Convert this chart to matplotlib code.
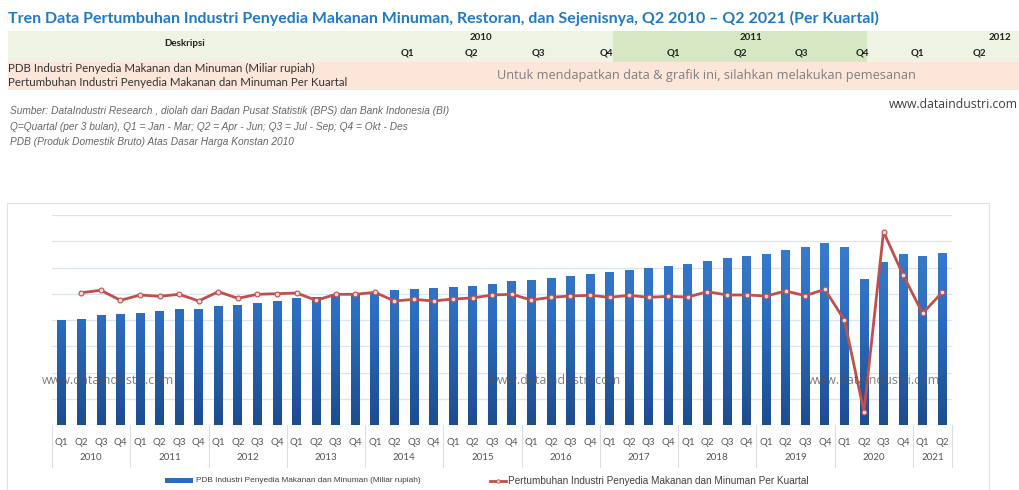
import matplotlib
matplotlib.use("Agg")
import matplotlib.pyplot as plt
from matplotlib import font_manager
from matplotlib.patches import Rectangle
from matplotlib.lines import Line2D
from matplotlib.colors import LinearSegmentedColormap
import matplotlib.transforms as mtransforms
import numpy as np

# Data (PDB in miliar rupiah, growth in % per quarter)
years = ["2010", "2011", "2012", "2013", "2014", "2015", "2016", "2017",
         "2018", "2019", "2020", "2021"]
quarters = ["Q1", "Q2", "Q3", "Q4"] * 11 + ["Q1", "Q2"]

pdb = [99800, 101400, 104600, 105500,
       107100, 108100, 110600, 110300,
       113100, 114100, 116600, 118200,
       120700, 121700, 123600, 125200,
       126700, 128300, 129300, 130200,
       131200, 132800, 134700, 136900,
       137800, 139700, 141600, 143800,
       145700, 147300, 149200, 151800,
       153300, 156200, 158700, 161300,
       162800, 166600, 169200, 173300,
       169200, 138800, 155200, 163200,
       160600, 164200]

growth = [None, 2.05, 2.45, 0.78,
          1.67, 1.45, 1.78, 0.67,
          2.22, 1.11, 1.78, 1.89,
          2.00, 0.78, 1.78, 1.78,
          2.11, 0.67, 0.94, 0.67,
          1.00, 1.17, 1.67, 1.78,
          0.83, 1.28, 1.50, 1.61,
          1.28, 1.61, 1.28, 1.44,
          1.33, 2.22, 1.67, 1.67,
          1.50, 2.33, 1.56, 2.61,
          -2.50, -17.8, 12.2, 5.00,
          -1.39, 2.11]

title = "Tren Data Pertumbuhan Industri Penyedia Makanan Minuman, Restoran, dan Sejenisnya, Q2 2010 \u2013 Q2 2021 (Per Kuartal)"
row_labels = ["PDB Industri Penyedia Makanan dan Minuman (Miliar rupiah)",
              "Pertumbuhan Industri Penyedia Makanan dan Minuman Per Kuartal"]
table_years = ["2010", "2011", "2012"]
table_quarters = ["Q1", "Q2", "Q3", "Q4", "Q1", "Q2", "Q3", "Q4", "Q1", "Q2"]
notes = ["Sumber: DataIndustri Research , diolah dari Badan Pusat Statistik (BPS) dan Bank Indonesia (BI)",
         "Q=Quartal (per 3 bulan), Q1 = Jan - Mar; Q2 = Apr - Jun; Q3 = Jul - Sep; Q4 = Okt - Des",
         "PDB (Produk Domestik Bruto) Atas Dasar Harga Konstan 2010"]
site = "www.dataindustri.com"

bar_color = "#2c6cbd"
line_color = "#c0504d"

W, H = 1020, 490
fig = plt.figure(figsize=(W / 100, H / 100), dpi=100)
fig.patch.set_facecolor("white")
renderer = fig.canvas.get_renderer()


def fx(x):
    return x / W


def fy(y):
    return 1 - y / H


def prect(x0, y0, x1, y1, **kw):
    fig.patches.append(Rectangle((fx(x0), fy(y1)), fx(x1 - x0), (y1 - y0) / H,
                                 transform=fig.transFigure, **kw))


def fit(t, width_px):
    # scale the font so the text spans the given pixel width
    bb = t.get_window_extent(renderer)
    t.set_fontsize(t.get_fontsize() * width_px / bb.width)


# header
fig.text(fx(8), fy(18), title, fontsize=11.5, fontweight="bold", color="#1f7bc4",
         family="Lato", va="center", ha="left")

prect(8, 31, 1020, 62, facecolor="#eef3e3", edgecolor="none")
prect(613, 31, 867, 62, facecolor="#d8e7c3", edgecolor="none")
prect(8, 62, 1020, 90, facecolor="#fce6da", edgecolor="none")

fig.text(fx(185), fy(44), "Deskripsi", fontsize=7, fontweight="bold",
         family="Lato", ha="center", va="center", color="#222222")
for lab, xp in zip(table_years, [481, 751, 1000]):
    fig.text(fx(xp), fy(38), lab, fontsize=7, fontweight="bold", family="Lato",
             ha="center", va="center", color="#222222")
for lab, xp in zip(table_quarters, [407, 471, 538, 606, 673, 740, 801, 862, 917, 979]):
    fig.text(fx(xp), fy(53), lab, fontsize=7, fontweight="bold", family="Lato",
             ha="center", va="center", color="#222222")
fig.text(fx(8), fy(68), row_labels[0], fontsize=8.3, family="Lato", ha="left",
         va="center", color="#333333")
fig.text(fx(8), fy(82), row_labels[1], fontsize=8.3, family="Lato", ha="left",
         va="center", color="#333333")
fig.text(fx(706), fy(76), "Untuk mendapatkan data & grafik ini, silahkan melakukan pemesanan",
         fontsize=9.2, family="Open Sans", ha="center", va="center", color="#7f7f7f")

for i, n in enumerate(notes):
    fig.text(fx(10), fy(111 + i * 15.5), n, fontsize=7.3, style="italic",
             family="Liberation Sans", ha="left", va="center", color="#666666")
fig.text(fx(1018), fy(105), site, fontsize=8.8, family="Open Sans", ha="right",
         va="center", color="#404040")

# chart frame
prect(7, 203, 989, 495, facecolor="none", edgecolor="#dde3ea", linewidth=0.8)

# chart
ax = fig.add_axes([fx(52), fy(425), fx(900), 210 / H])
x = list(range(len(pdb)))
ax.set_xlim(-0.5, len(pdb) - 0.5)
ax.set_ylim(0, 200000)
ax.set_yticks(range(0, 200001, 25000))
ax.grid(axis="y", color="#dbe4ef", linewidth=0.9)
ax.set_axisbelow(True)
bars = ax.bar(x, pdb, width=0.45, color=bar_color, zorder=2)

# vertical gradient fill on each bar, lighter at the top
grad = LinearSegmentedColormap.from_list("bluegrad", ["#1d4c8f", "#2c6cbd", "#3c82d6"])
gimg = np.linspace(0, 1, 256).reshape(-1, 1)
for b in bars:
    bx, bw = b.get_x(), b.get_width()
    im = ax.imshow(gimg, cmap=grad, origin="lower", aspect="auto",
                   extent=[bx, bx + bw, 0, 200000], zorder=2.1)
    im.set_clip_path(b)
ax.set_xlim(-0.5, len(pdb) - 0.5)
ax.set_ylim(0, 200000)

for s in ax.spines.values():
    s.set_visible(False)
ax.set_xticks(x)
ax.set_xticklabels(quarters, fontsize=7, color="#555555", family="Lato")

tr = mtransforms.blended_transform_factory(ax.transData, ax.transAxes)
for k in range(len(years) + 1):
    xb = min(k * 4, len(pdb)) - 0.5
    ax.add_line(Line2D([xb, xb], [0, -0.2], transform=tr, color="#d9dfe6",
                       linewidth=0.8, clip_on=False))
for k, yr in enumerate(years):
    lo = k * 4
    hi = min(k * 4 + 3, len(pdb) - 1)
    ax.text((lo + hi) / 2, -0.153, yr, transform=tr, fontsize=7, family="Lato",
            ha="center", va="center", color="#555555")

ax2 = ax.twinx()
ax2.set_ylim(-20, 15)
gx = [i for i, g in zip(x, growth) if g is not None]
gy = [g for g in growth if g is not None]
ax2.plot(gx, gy, color=line_color, linewidth=2, marker="o", markersize=3.5,
         markerfacecolor="#f2dcdb", markeredgecolor=line_color, markeredgewidth=0.8,
         zorder=3)
ax2.set_yticks([])
for s in ax2.spines.values():
    s.set_visible(False)
ax.tick_params(left=False, labelleft=False, right=False, bottom=False)
ax.tick_params(axis="x", pad=6)
ax2.tick_params(left=False, right=False, labelleft=False, labelright=False)

# watermarks
for xp in [108, 555, 874]:
    fig.text(fx(xp), fy(380), site, fontsize=9, family="Open Sans", ha="center",
             va="center", color="#555555", alpha=0.75)

# legend, laid out by hand in a narrow font
installed = {f.name for f in font_manager.fontManager.ttflist}
leg_font = "Liberation Sans Narrow" if "Liberation Sans Narrow" in installed else "Liberation Sans"
prect(165, 478, 193, 483, facecolor=bar_color, edgecolor="none")
fig.add_artist(Line2D([fx(490), fx(506)], [fy(480.5), fy(480.5)], color=line_color,
                      linewidth=2, transform=fig.transFigure))
fig.add_artist(Line2D([fx(498)], [fy(480.5)], color=line_color, marker="o",
                      markersize=2.5, markerfacecolor="#f2dcdb", markeredgewidth=0.6,
                      transform=fig.transFigure))
t1 = fig.text(fx(196), fy(480.5), row_labels[0], fontsize=6.5, family=leg_font,
              ha="left", va="center", color="#404040")
t2 = fig.text(fx(508), fy(480.5), row_labels[1], fontsize=6.5, family=leg_font,
              ha="left", va="center", color="#404040")
fit(t1, 225)
fit(t2, 300)

fig.savefig("out.png", dpi=100, facecolor="white")
